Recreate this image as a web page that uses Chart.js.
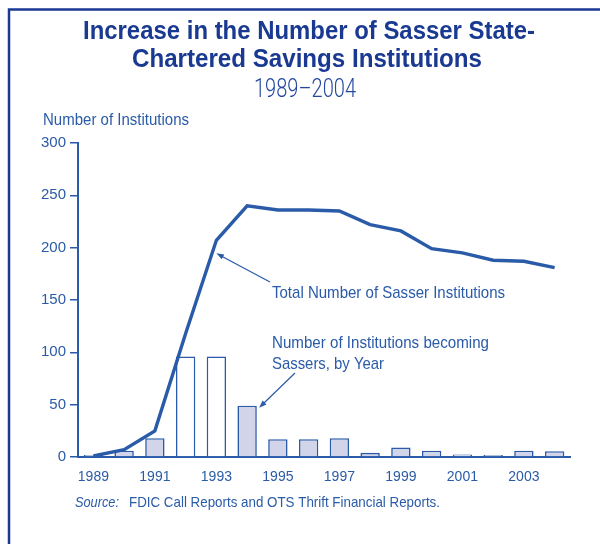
<!DOCTYPE html>
<html>
<head>
<meta charset="utf-8">
<script src="https://cdn.jsdelivr.net/npm/chart.js@4.4.1/dist/chart.umd.min.js"></script>
<style>
  body { margin: 0; background: #fff; }
  #wrap { width: 600px; height: 544px; }
</style>
</head>
<body>
<div id="wrap"><canvas id="myChart" width="600" height="544"></canvas></div>
<script>
const years = ["1989", "1990", "1991", "1992", "1993", "1994", "1995", "1996",
  "1997", "1998", "1999", "2000", "2001", "2002", "2003", "2004"];
const newSassers = [2, 6, 18, 96, 96, 49, 17, 17, 18, 4, 9, 6, 2.5, 2, 6, 5.5];
const totalSassers = [1, 7, 25, 118, 207, 240, 236, 236, 235, 222, 216, 199, 195, 188, 187, 181];
const yTicks = [0, 50, 100, 150, 200, 250, 300];

const BLUE = "#2a5ba8";
const NAVY = "#1a3a92";
const FONT = "'Liberation Sans', Arial, sans-serif";

// 1992 and 1993 bars are drawn hollow
const barFill = years.map((y) => (y === "1992" || y === "1993" ? "#ffffff" : "#d2d5ea"));

function arrow(ctx, x1, y1, x2, y2) {
  const ang = Math.atan2(y2 - y1, x2 - x1);
  ctx.beginPath();
  ctx.moveTo(x1, y1);
  ctx.lineTo(x2 - 5 * Math.cos(ang), y2 - 5 * Math.sin(ang));
  ctx.stroke();
  ctx.beginPath();
  ctx.moveTo(x2, y2);
  ctx.lineTo(x2 - 8 * Math.cos(ang - 0.35), y2 - 8 * Math.sin(ang - 0.35));
  ctx.lineTo(x2 - 8 * Math.cos(ang + 0.35), y2 - 8 * Math.sin(ang + 0.35));
  ctx.closePath();
  ctx.fill();
}

const textPlugin = {
  id: "texts",
  beforeDraw(chart) {
    const ctx = chart.ctx;
    ctx.save();
    ctx.fillStyle = "#fff";
    ctx.fillRect(0, 0, chart.width, chart.height);
    // frame
    ctx.strokeStyle = NAVY;
    ctx.lineWidth = 2.5;
    ctx.beginPath();
    ctx.moveTo(9, 548);
    ctx.lineTo(9, 9.5);
    ctx.lineTo(610, 9.5);
    ctx.stroke();
    ctx.restore();
  },
  afterDraw(chart) {
    const ctx = chart.ctx;
    const x = chart.scales.x;
    const y = chart.scales.y;
    ctx.save();
    ctx.textBaseline = "alphabetic";

    // title
    ctx.fillStyle = NAVY;
    ctx.textAlign = "center";
    ctx.font = "bold 26px " + FONT;
    ctx.fillText("Increase in the Number of Sasser State-", 309, 39, 452);
    ctx.fillText("Chartered Savings Institutions", 307, 67, 350);
    ctx.font = "300 26px Roboto, Lato, " + FONT;
    ctx.fillStyle = "#2448a0";
    ctx.fillText("1989\u20132004", 305, 97, 102);

    ctx.fillStyle = BLUE;
    ctx.textAlign = "left";
    ctx.font = "17px " + FONT;
    ctx.fillText("Number of Institutions", 43, 125, 146);

    // annotations
    ctx.fillText("Total Number of Sasser Institutions", 272, 298, 233);
    ctx.fillText("Number of Institutions becoming", 272, 348, 217);
    ctx.fillText("Sassers, by Year", 272, 369, 112);

    ctx.strokeStyle = BLUE;
    ctx.lineWidth = 1.2;
    const tx = x.getPixelForValue(4);
    const ty = y.getPixelForValue(totalSassers[4]);
    arrow(ctx, 270, 282, tx, ty + 13);
    const bx = x.getPixelForValue(5);
    const by = y.getPixelForValue(newSassers[5]);
    arrow(ctx, 295, 373, bx + 12, by + 2);

    // source
    ctx.font = "italic 15px " + FONT;
    ctx.fillText("Source:", 75, 507, 44);
    ctx.font = "15px " + FONT;
    ctx.fillText("FDIC Call Reports and OTS Thrift Financial Reports.", 129, 507, 311);
    ctx.restore();
  }
};

const config = {
  type: "bar",
  data: {
    labels: years,
    datasets: [
      {
        type: "line",
        label: "Total Number of Sasser Institutions",
        data: totalSassers,
        borderColor: BLUE,
        borderWidth: 3.4,
        pointRadius: 0,
        tension: 0,
        fill: false,
        order: 0
      },
      {
        label: "Number of Institutions becoming Sassers, by Year",
        data: newSassers,
        backgroundColor: barFill,
        borderColor: BLUE,
        borderWidth: 1.6,
        categoryPercentage: 1,
        barPercentage: 0.63,
        order: 1
      }
    ]
  },
  options: {
    responsive: false,
    animation: false,
    layout: { padding: { top: 143, right: 30, left: 0, bottom: 0 } },
    plugins: {
      legend: { display: false },
      tooltip: { enabled: false }
    },
    scales: {
      x: {
        grid: { display: false, drawTicks: false },
        border: { display: true, color: BLUE, width: 2 },
        ticks: {
          color: BLUE,
          font: { family: FONT, size: 14 },
          padding: 12,
          maxRotation: 0,
          autoSkip: false,
          callback: (v, i) => (i % 2 === 0 ? years[i] : "")
        },
        afterFit: (s) => { s.height = 544 - 457; }
      },
      y: {
        min: 0,
        max: 300,
        afterBuildTicks: (s) => { s.ticks = yTicks.map((v) => ({ value: v })); },
        grid: { display: true, drawOnChartArea: false, drawTicks: true, tickLength: 8, color: BLUE, lineWidth: 1.5 },
        border: { display: true, color: BLUE, width: 2 },
        ticks: {
          color: BLUE,
          font: { family: FONT, size: 15 },
          padding: 4
        },
        afterFit: (s) => { s.width = 78; }
      }
    }
  },
  plugins: [textPlugin]
};

new Chart(document.getElementById("myChart"), config);
</script>
</body>
</html>
